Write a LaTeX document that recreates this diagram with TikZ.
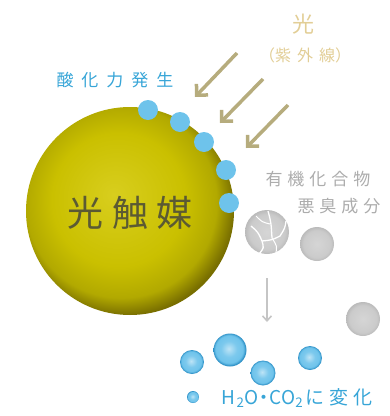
\documentclass[tikz,border=0pt]{standalone}
\usepackage{fontspec}
\setmainfont{Noto Sans CJK JP}
\usetikzlibrary{arrows.meta}

\definecolor{cat}{RGB}{202,192,0}
\definecolor{catlight}{RGB}{216,206,30}
\definecolor{catdark}{RGB}{120,110,0}
\definecolor{dotblue}{RGB}{110,195,235}
\definecolor{bubedge}{RGB}{40,140,195}
\definecolor{txtblue}{RGB}{55,165,215}
\definecolor{lighttan}{RGB}{226,206,150}
\definecolor{raykhaki}{RGB}{182,172,125}
\definecolor{txtgray}{RGB}{172,172,172}
\definecolor{ballgray}{RGB}{203,203,203}

\pgfdeclareradialshading{catalyst}{\pgfpoint{-4bp}{4bp}}{%
  color(0bp)=(catlight); color(16bp)=(cat); color(23bp)=(cat!88!black);
  color(27bp)=(catdark); color(50bp)=(catdark)}
\pgfdeclareradialshading{bubble}{\pgfpoint{-2bp}{2bp}}{%
  color(0bp)=(dotblue!45!white); color(12bp)=(dotblue!90!white); color(21bp)=(dotblue);
  color(25bp)=(bubedge); color(50bp)=(bubedge)}
\pgfdeclareradialshading{grayball}{\pgfpoint{0bp}{0bp}}{%
  color(0bp)=(ballgray!80!white); color(20bp)=(ballgray); color(25bp)=(ballgray!92!black); color(50bp)=(ballgray!92!black)}

\tikzset{
  ray/.style={raykhaki,line width=3.5pt,-{Straight Barb[length=8pt,width=16pt,line width=3.5pt]}},
  site/.style={circle,fill=dotblue,minimum size=20pt,inner sep=0pt},
  water/.style={circle,shading=bubble,inner sep=0pt},
  odor/.style={circle,shading=grayball,inner sep=0pt},
}

\begin{document}
\begin{tikzpicture}[x=1pt,y=-1pt]
		\useasboundingbox (0,0) rectangle (390,416);

		%catalyst sphere
		\node[circle,shading=catalyst,minimum size=208pt,inner sep=0pt] (cat) at (130,211) {};
		\node[text=cat!25!black!80!white,font=\fontsize{36}{36}\selectfont] (catlbl) at (130,213) {光\hspace{9pt}触\hspace{9pt}媒};

		%active sites on the surface
		\node[site] (s1) at (148,110) {};
		\node[site] (s2) at (180,122) {};
		\node[site] (s3) at (204,142) {};
		\node[site] (s4) at (226,170) {};
		\node[site] (s5) at (229,203) {};
		\node[text=txtblue,font=\fontsize{17}{17}\selectfont] (ox) at (115,80) {酸\hspace{8pt}化\hspace{8pt}力\hspace{8pt}発\hspace{8pt}生};

		%light
		\node[text=lighttan,font=\fontsize{22}{22}\selectfont] (light) at (303,24) {光};
		\node[text=lighttan,font=\fontsize{16}{16}\selectfont] (uv) at (305,55) {（紫\hspace{6pt}外\hspace{6pt}線）};
		\coordinate (r1a) at (237,53);  \coordinate (r1b) at (195,97);
		\coordinate (r2a) at (263,79);  \coordinate (r2b) at (220,123);
		\coordinate (r3a) at (288,105); \coordinate (r3b) at (246,148);
		\draw[ray] (r1a) -- (r1b);
		\draw[ray] (r2a) -- (r2b);
		\draw[ray] (r3a) -- (r3b);

		%odor molecules
		\node[text=txtgray,font=\fontsize{17}{17}\selectfont] (org) at (318,179) {有\hspace{5pt}機\hspace{5pt}化\hspace{5pt}合\hspace{5pt}物};
		\node[text=txtgray,font=\fontsize{17}{17}\selectfont] (smell) at (339,206) {悪\hspace{5pt}臭\hspace{5pt}成\hspace{5pt}分};
		\node[odor,minimum size=44pt] (m1) at (267,232) {};
		\draw[white,line width=1.3pt] (251,226) .. controls (258,232) .. (262,241) .. controls (264,248) .. (259,254);
		\draw[white,line width=1.3pt] (262,241) .. controls (272,240) .. (280,236) .. controls (285,228) .. (286,221);
		\draw[white,line width=1.3pt] (268,211) .. controls (271,222) .. (272,238);
		\draw[white,line width=1pt] (256,216) .. controls (262,222) .. (270,224);
		\draw[white,line width=1pt] (272,238) .. controls (277,246) .. (276,253);
		\node[odor,minimum size=34pt] (m2) at (317,244) {};
		\node[odor,minimum size=34pt] (m3) at (363,319) {};

		%decomposition
		\draw[txtgray!70,line width=1.6pt,-{Straight Barb[length=5pt,width=9pt,line width=1.6pt]}] (267,278) -- (267,322);

		%products
		\node[water,minimum size=33pt] (w1) at (230,350) {};
		\node[water,minimum size=24pt] (w2) at (192,362) {};
		\node[water,minimum size=25pt] (w3) at (263,373) {};
		\node[water,minimum size=24pt] (w4) at (310,358) {};
		\node[water,minimum size=12pt] (w5) at (193,397) {};
		\node[text=txtblue,font=\fontsize{19}{19}\selectfont] (prod) at (297,398) {H\hspace{1pt}\textsubscript{2}O\hspace{-4pt}・\hspace{-4pt}CO\textsubscript{2}\hspace{2pt}に\hspace{5pt}変\hspace{5pt}化};
\end{tikzpicture}
\end{document}
